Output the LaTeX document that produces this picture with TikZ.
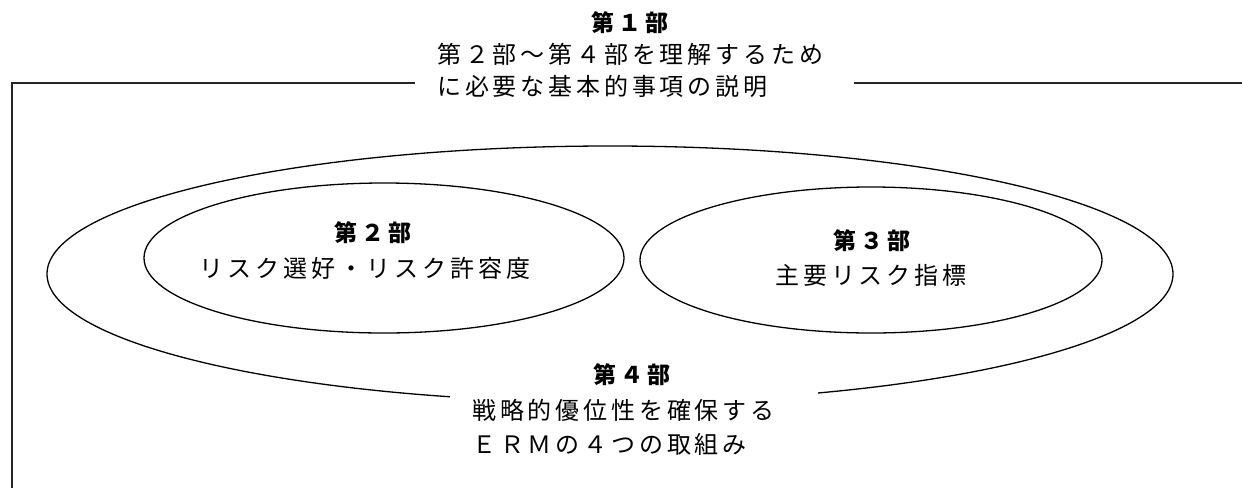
\documentclass[tikz,border=0pt]{standalone}
\usepackage{fontspec}
\newfontfamily\jp[LetterSpace=16]{Noto Sans CJK JP}
\tikzset{
  body/.style={font=\jp\fontsize{24}{34}\selectfont, inner sep=0pt},
  head/.style={font=\jp\bfseries\fontsize{23}{26}\selectfont, inner sep=0pt},
  cover/.style={fill=white, inner xsep=22pt, inner ysep=8pt, align=left},
  outline/.style={line width=1.3pt},
  frame/.style={line width=1.6pt, black!85}
}
\begin{document}
\begin{tikzpicture}[x=1pt,y=-1pt]
\useasboundingbox (0,0) rectangle (1242,488);
% frame (open box)
\draw[frame] (1242,83) -- (12,83) -- (12,488);
% ellipses
\draw[outline] (610,274) ellipse [x radius=563, y radius=128];
\draw[outline] (384,258) ellipse [x radius=240, y radius=75];
\draw[outline] (871,260) ellipse [x radius=231, y radius=73];
% part 1
\node[head] (t1) at (630,23) {第１部};
\node[body, cover, text width=395pt, anchor=west,
      font=\jp\fontsize{24}{32}\selectfont] (d1) at (415,70)
  {第２部〜第４部を理解するため\\に必要な基本的事項の説明};
% part 2
\node[head] (t2) at (373,233) {第２部};
\node[body] (d2) at (365,268) {リスク選好・リスク許容度};
% part 3
\node[head] (t3) at (872,241) {第３部};
\node[body] (d3) at (871,275) {主要リスク指標};
% part 4
\node[head] (t4) at (632,375) {第４部};
\node[body, cover, text width=324pt, anchor=west] (d4) at (450,427)
  {戦略的優位性を確保する\\ＥＲＭの４つの取組み};
\end{tikzpicture}
\end{document}
